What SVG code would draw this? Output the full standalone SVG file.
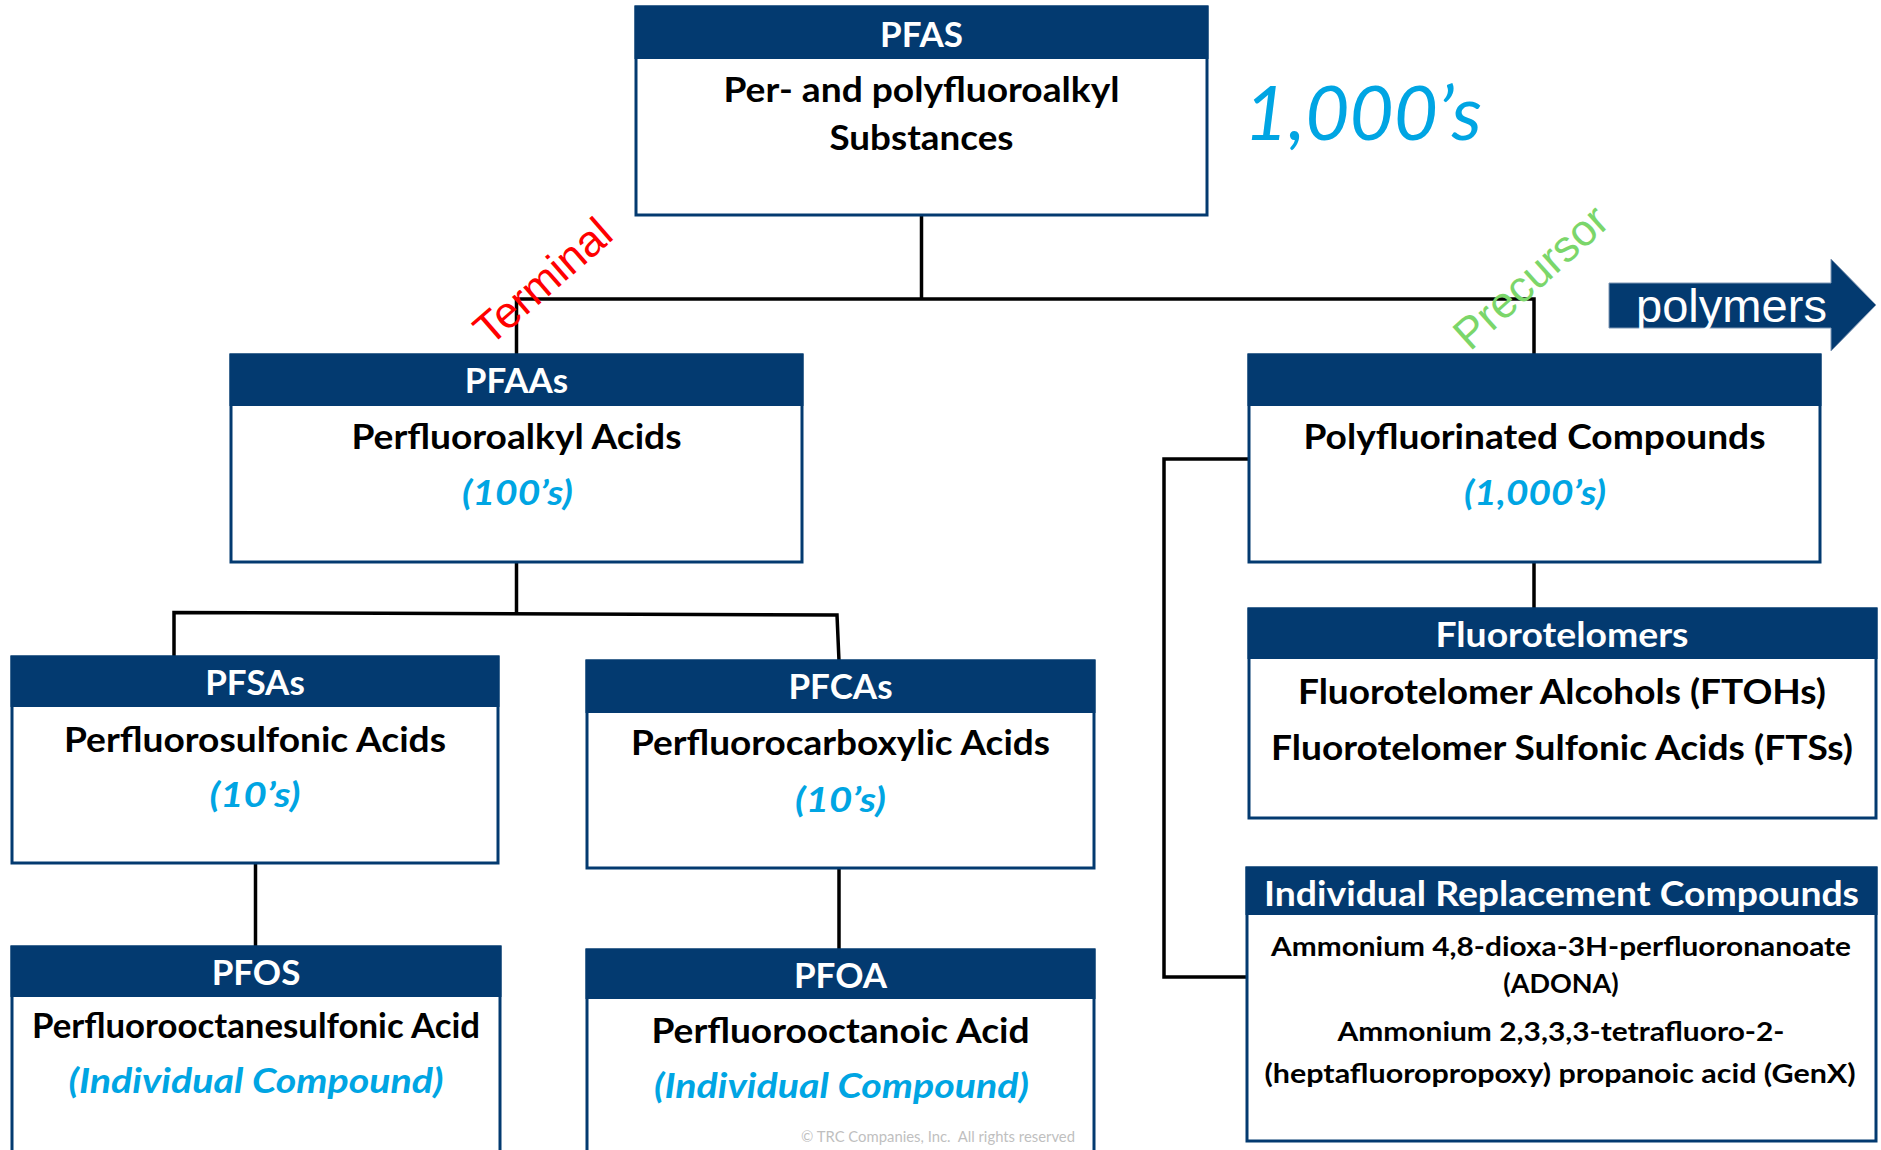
<svg xmlns="http://www.w3.org/2000/svg" width="1881" height="1150" viewBox="0 0 1881 1150">
<style>
.box{fill:#fff;stroke:#033A70;stroke-width:3}
.hdr{fill:#033A70}
.t{font-family:Lato,"Open Sans","Liberation Sans",sans-serif;font-weight:700;text-anchor:middle}
.ttl{font-size:35px;fill:#fff}
.bd{font-size:35px;fill:#000}
.sm{font-size:27px;fill:#000}
.it{font-size:35px;fill:#00A5E3;font-style:italic}
.conn{fill:none;stroke:#000;stroke-width:3.5}
.rot{font-family:"Liberation Sans",Arial,sans-serif;font-size:44px}
</style>
<rect width="1881" height="1150" fill="#fff"/>
<g id="connectors">
<path class="conn" d="M921.5 215 V299"/>
<path class="conn" d="M516.5 356 V299 H1534 V356"/>
<path class="conn" d="M516.5 562 V613"/>
<path class="conn" d="M174 657 V612.5 L837 615 L839 661"/>
<path class="conn" d="M255.5 863 V947"/>
<path class="conn" d="M839 868 V950"/>
<path class="conn" d="M1534 562 V609"/>
<path class="conn" d="M1249 459 H1164 V977 H1247"/>
</g>
<g id="pfas">
<rect class="box" x="636" y="7" width="571" height="208"/>
<rect class="hdr" x="634.5" y="5.5" width="574" height="53.5"/>
<text class="t ttl" x="921.5" y="47">PFAS</text>
<text class="t bd" x="921.5" y="102" textLength="396" lengthAdjust="spacingAndGlyphs">Per- and polyfluoroalkyl</text>
<text class="t bd" x="921.5" y="150" textLength="184" lengthAdjust="spacingAndGlyphs">Substances</text>
</g>
<g id="count">
<text x="1244" y="140" font-family="Lato,'Open Sans',sans-serif" font-style="italic" font-size="76" fill="#00A5E3" textLength="238" lengthAdjust="spacingAndGlyphs">1,000’s</text>
</g>
<g id="pfaas">
<rect class="box" x="231" y="355" width="571" height="207"/>
<rect class="hdr" x="229.5" y="353.5" width="574" height="52.5"/>
<text class="t ttl" x="516.5" y="393">PFAAs</text>
<text class="t bd" x="516.5" y="449" textLength="330" lengthAdjust="spacingAndGlyphs">Perfluoroalkyl Acids</text>
<text class="t it" x="517.5" y="505" textLength="111" lengthAdjust="spacingAndGlyphs">(100’s)</text>
</g>
<g id="poly">
<rect class="box" x="1249" y="355" width="571" height="207"/>
<rect class="hdr" x="1247.5" y="353.5" width="574" height="52.5"/>
<text class="t bd" x="1534.5" y="449" textLength="462" lengthAdjust="spacingAndGlyphs">Polyfluorinated Compounds</text>
<text class="t it" x="1535" y="505" textLength="142" lengthAdjust="spacingAndGlyphs">(1,000’s)</text>
</g>
<g id="terminal">
<text class="rot" fill="#FF0000" transform="translate(490 347) rotate(-41)">Terminal</text>
</g>
<g id="precursor">
<text class="rot" fill="#7BD66A" transform="translate(1470 352) rotate(-42)">Precursor</text>
</g>
<g id="polymers">
<polygon points="1609,283 1831,283 1831,259 1876,305 1831,351 1831,328 1609,328" fill="#033A70" stroke="#7F97B5" stroke-width="1"/>
<text x="1636" y="322" font-family="'Liberation Sans',Arial,sans-serif" font-size="46" fill="#fff" textLength="191" lengthAdjust="spacingAndGlyphs">polymers</text>
</g>
<g id="pfsas">
<rect class="box" x="12" y="657" width="486" height="206"/>
<rect class="hdr" x="10.5" y="655.5" width="489" height="51.5"/>
<text class="t ttl" x="255" y="695">PFSAs</text>
<text class="t bd" x="255" y="752" textLength="382" lengthAdjust="spacingAndGlyphs">Perfluorosulfonic Acids</text>
<text class="t it" x="255" y="807" textLength="91" lengthAdjust="spacingAndGlyphs">(10’s)</text>
</g>
<g id="pfcas">
<rect class="box" x="587" y="661" width="507" height="207"/>
<rect class="hdr" x="585.5" y="659.5" width="510" height="53.5"/>
<text class="t ttl" x="840.5" y="699">PFCAs</text>
<text class="t bd" x="840.5" y="755" textLength="419" lengthAdjust="spacingAndGlyphs">Perfluorocarboxylic Acids</text>
<text class="t it" x="840.5" y="812" textLength="91" lengthAdjust="spacingAndGlyphs">(10’s)</text>
</g>
<g id="pfos">
<rect class="box" x="12" y="947" width="488" height="230"/>
<rect class="hdr" x="10.5" y="945.5" width="491" height="51.5"/>
<text class="t ttl" x="256" y="985">PFOS</text>
<text class="t bd" x="256" y="1038" textLength="448" lengthAdjust="spacingAndGlyphs">Perfluorooctanesulfonic Acid</text>
<text class="t it" x="256" y="1093" textLength="375" lengthAdjust="spacingAndGlyphs">(Individual Compound)</text>
</g>
<g id="pfoa">
<rect class="box" x="587" y="950" width="507" height="230"/>
<rect class="hdr" x="585.5" y="948.5" width="510" height="50.5"/>
<text class="t ttl" x="840.5" y="988">PFOA</text>
<text class="t bd" x="840.5" y="1043" textLength="378" lengthAdjust="spacingAndGlyphs">Perfluorooctanoic Acid</text>
<text class="t it" x="841.5" y="1098" textLength="375" lengthAdjust="spacingAndGlyphs">(Individual Compound)</text>
</g>
<g id="fluorotelomers">
<rect class="box" x="1249" y="609" width="627" height="209"/>
<rect class="hdr" x="1247.5" y="607.5" width="630" height="51.5"/>
<text class="t ttl" x="1562" y="647" textLength="253" lengthAdjust="spacingAndGlyphs">Fluorotelomers</text>
<text class="t bd" x="1562" y="704" textLength="528" lengthAdjust="spacingAndGlyphs">Fluorotelomer Alcohols (FTOHs)</text>
<text class="t bd" x="1562" y="760" textLength="582" lengthAdjust="spacingAndGlyphs">Fluorotelomer Sulfonic Acids (FTSs)</text>
</g>
<g id="replacement">
<rect class="box" x="1247" y="868" width="629" height="273"/>
<rect class="hdr" x="1245.5" y="866.5" width="632" height="48.5"/>
<text class="t ttl" x="1561.5" y="906" textLength="595" lengthAdjust="spacingAndGlyphs">Individual Replacement Compounds</text>
<text class="t sm" x="1561" y="956" textLength="580" lengthAdjust="spacingAndGlyphs">Ammonium 4,8-dioxa-3H-perfluoronanoate</text>
<text class="t sm" x="1561" y="993">(ADONA)</text>
<text class="t sm" x="1561" y="1041" textLength="447" lengthAdjust="spacingAndGlyphs">Ammonium 2,3,3,3-tetrafluoro-2-</text>
<text class="t sm" x="1560" y="1083" textLength="591" lengthAdjust="spacingAndGlyphs">(heptafluoropropoxy) propanoic acid (GenX)</text>
</g>
<g id="copyright">
<text x="801" y="1142" xml:space="preserve" font-family="Lato,'Open Sans',sans-serif" font-size="15" fill="#BFBFBF" textLength="274" lengthAdjust="spacingAndGlyphs">© TRC Companies, Inc.  All rights reserved</text>
</g>
</svg>
